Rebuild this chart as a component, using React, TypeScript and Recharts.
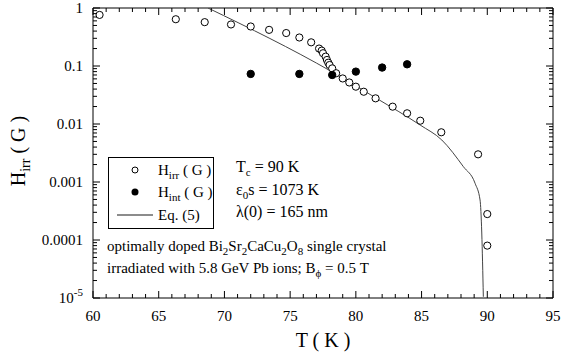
import React from 'react';
import { ComposedChart, Scatter, Line, XAxis, YAxis, ReferenceLine } from 'recharts';

const FONT = '"Liberation Serif", "Times New Roman", Times, serif';

// H_irr (open circles)
const hirrT = [60.5, 66.3, 68.5, 70.5, 72.0, 73.4, 74.7, 75.7, 76.6, 77.2, 77.4, 77.5, 77.7, 77.8, 77.9, 78.0, 78.2, 78.5, 79.0, 79.5, 80.0, 80.6, 81.5, 82.8, 83.9, 84.9, 86.5, 89.3, 90.0, 90.0];
const hirrH = [0.76, 0.64, 0.57, 0.52, 0.48, 0.42, 0.37, 0.31, 0.256, 0.2, 0.184, 0.166, 0.145, 0.127, 0.114, 0.104, 0.091, 0.075, 0.061, 0.052, 0.044, 0.036, 0.0277, 0.0199, 0.0153, 0.0114, 0.0072, 0.003, 0.00028, 0.00008];

// H_int (filled circles)
const hintT = [72.0, 75.7, 78.2, 80.0, 82.0, 83.9];
const hintH = [0.073, 0.073, 0.07, 0.08, 0.094, 0.107];

// Eq. (5) curve
const eqT = [68.75, 78.17, 81.54, 84.89, 86.54, 88.18, 89.07, 89.45, 89.58, 89.7];
const eqH = [1, 0.0797, 0.028, 0.0096, 0.0053, 0.00184, 0.00095, 0.00049, 0.000132, 0.0000105];

// ticks
const xMajor = [60, 65, 70, 75, 80, 85, 90, 95];
const xMinor = [61, 62, 63, 64, 66, 67, 68, 69, 71, 72, 73, 74, 76, 77, 78, 79, 81, 82, 83, 84, 86, 87, 88, 89, 91, 92, 93, 94];
const yMajor = [1e-5, 1e-4, 1e-3, 1e-2, 1e-1, 1];
const yLabels = ['10^-5', '0.0001', '0.001', '0.01', '0.1', '1'];
const minorMult = [2, 3, 4, 5, 6, 7, 8, 9];
const yMinor: number[] = [];
yMajor.slice(0, 5).forEach((d) => minorMult.forEach((m) => yMinor.push(d * m)));

const xTicks = [...xMajor, ...xMinor].sort((a, b) => a - b);
const yTicks = [...yMajor, ...yMinor].sort((a, b) => a - b);

const hirrData = hirrT.map((T, i) => ({ T, H: hirrH[i] }));
const hintData = hintT.map((T, i) => ({ T, H: hintH[i] }));
const eqData = eqT.map((T, i) => ({ T, H: eqH[i] }));

const XDOM: [number, number] = [60, 95];
const YDOM: [number, number] = [1e-5, 1];

// layout
const CHART_W = 561;
const CHART_H = 360;
const M_TOP = 8;
const M_RIGHT = 8;
const YAXIS_W = 93;
const XAXIS_H = 62;
const PLOT_W = CHART_W - YAXIS_W - M_RIGHT;
const PLOT_H = CHART_H - M_TOP - XAXIS_H;
const MAJ = 7;
const MIN = 4;

const XTick = (p: any) => {
  const { x, y, payload } = p;
  const v = payload.value;
  const major = xMajor.some((m) => Math.abs(m - v) < 1e-9);
  const len = major ? MAJ : MIN;
  const top = y - PLOT_H;
  return (
    <g>
      <line x1={x} x2={x} y1={y} y2={y - len} stroke="#000" strokeWidth={1} />
      <line x1={x} x2={x} y1={top} y2={top + len} stroke="#000" strokeWidth={1} />
      {major && (
        <text x={x} y={y + 12} dy="0.71em" textAnchor="middle" fontFamily={FONT} fontSize={15} fill="#000">
          {v}
        </text>
      )}
    </g>
  );
};

const YTick = (p: any) => {
  const { x, y, payload } = p;
  const v = payload.value;
  let idx = -1;
  yMajor.forEach((m, i) => {
    if (Math.abs(Math.log10(m) - Math.log10(v)) < 1e-6) idx = i;
  });
  const major = idx >= 0;
  const len = major ? MAJ : MIN;
  const right = x + PLOT_W;
  let label: React.ReactNode = null;
  if (major) {
    const lab = yLabels[idx];
    if (lab.includes('^')) {
      const [base, exp] = lab.split('^');
      label = (
        <text x={x - 10} y={y} dy={5} textAnchor="end" fontFamily={FONT} fontSize={15} fill="#000">
          {base}
          <tspan dy={-7} fontSize={11}>{exp}</tspan>
        </text>
      );
    } else {
      label = (
        <text x={x - 10} y={y} dy={5} textAnchor="end" fontFamily={FONT} fontSize={15} fill="#000">
          {lab}
        </text>
      );
    }
  }
  return (
    <g>
      <line x1={x} x2={x + len} y1={y} y2={y} stroke="#000" strokeWidth={1} />
      <line x1={right} x2={right - len} y1={y} y2={y} stroke="#000" strokeWidth={1} />
      {label}
    </g>
  );
};

const openDot = (p: any) => <circle cx={p.cx} cy={p.cy} r={3.6} fill="#fff" stroke="#000" strokeWidth={1} />;
const fillDot = (p: any) => <circle cx={p.cx} cy={p.cy} r={3.7} fill="#000" stroke="#000" strokeWidth={1} />;

export default function App() {
  return (
    <div style={{ position: 'absolute', left: 0, top: 0, width: CHART_W, height: CHART_H, background: '#fff' }}>
      <ComposedChart width={CHART_W} height={CHART_H} margin={{ top: M_TOP, right: M_RIGHT, left: 0, bottom: 0 }}>
        <XAxis
          xAxisId="x"
          dataKey="T"
          type="number"
          domain={XDOM}
          ticks={xTicks}
          interval={0}
          allowDataOverflow
          height={XAXIS_H}
          tickLine={false}
          tickSize={0}
          tickMargin={0}
          axisLine={{ stroke: '#000', strokeWidth: 1 }}
          tick={XTick}
          label={{
            content: (p: any) => {
              const vb = p.viewBox || { x: YAXIS_W, y: M_TOP + PLOT_H, width: PLOT_W };
              return (
                <text x={vb.x + vb.width / 2} y={vb.y + 49} textAnchor="middle" fontFamily={FONT} fontSize={20} fill="#000">
                  T ( K )
                </text>
              );
            },
          }}
        />
        <YAxis
          yAxisId="y"
          dataKey="H"
          type="number"
          scale="log"
          domain={YDOM}
          ticks={yTicks}
          interval={0}
          allowDataOverflow
          width={YAXIS_W}
          tickLine={false}
          tickSize={0}
          tickMargin={0}
          axisLine={{ stroke: '#000', strokeWidth: 1 }}
          tick={YTick}
          label={{
            content: (p: any) => {
              const vb = p.viewBox || { x: 0, y: M_TOP, width: YAXIS_W, height: PLOT_H };
              const cx = vb.x + 18;
              const cy = vb.y + vb.height / 2 - 2;
              return (
                <text x={cx} y={cy} dy={7} textAnchor="middle" transform={`rotate(-90, ${cx}, ${cy})`} fontFamily={FONT} fontSize={20} fill="#000">
                  H<tspan dy={5} fontSize={14}>irr</tspan>
                  <tspan dy={-5}> ( G )</tspan>
                </text>
              );
            },
          }}
        />
        {/* top and right frame lines */}
        <ReferenceLine xAxisId="x" yAxisId="y" y={YDOM[1]} stroke="#000" strokeWidth={1} ifOverflow="visible" />
        <ReferenceLine xAxisId="x" yAxisId="y" x={XDOM[1]} stroke="#000" strokeWidth={1} ifOverflow="visible" />

        <Line
          xAxisId="x"
          yAxisId="y"
          data={eqData}
          dataKey="H"
          type="monotone"
          stroke="#444"
          strokeWidth={1}
          dot={false}
          activeDot={false}
          isAnimationActive={false}
          name="Eq. (5)"
        />
        <Scatter xAxisId="x" yAxisId="y" data={hirrData} dataKey="H" shape={openDot} isAnimationActive={false} name="Hirr" />
        <Scatter xAxisId="x" yAxisId="y" data={hintData} dataKey="H" shape={fillDot} isAnimationActive={false} name="Hint" />
      </ComposedChart>

      <svg width={CHART_W} height={CHART_H} style={{ position: 'absolute', left: 0, top: 0, pointerEvents: 'none' }}>
        <g fontFamily={FONT} fontSize={15} fill="#000">
          {/* legend */}
          <rect x={108.5} y={157.5} width={105} height={71} fill="none" stroke="#000" strokeWidth={1} />
          <circle cx={135} cy={170} r={3} fill="#fff" stroke="#000" strokeWidth={1} />
          <text x={158} y={175}>
            H<tspan dy={4} fontSize={11}>irr</tspan>
            <tspan dy={-4}> ( G )</tspan>
          </text>
          <circle cx={135} cy={192} r={3.5} fill="#000" />
          <text x={158} y={197}>
            H<tspan dy={4} fontSize={11}>int</tspan>
            <tspan dy={-4}> ( G )</tspan>
          </text>
          <line x1={117} x2={153} y1={215} y2={215} stroke="#666" strokeWidth={1.5} />
          <text x={158} y={220}>Eq. (5)</text>

          {/* parameters */}
          <text x={236} y={172} fontSize={16}>
            T<tspan dy={4} fontSize={11}>c</tspan>
            <tspan dy={-4}> = 90 K</tspan>
          </text>
          <text x={236} y={195} fontSize={16}>
            ε<tspan dy={4} fontSize={11}>0</tspan>
            <tspan dy={-4}>s = 1073 K</tspan>
          </text>
          <text x={236} y={217} fontSize={16}>λ(0) = 165 nm</text>

          {/* sample description */}
          <text x={107} y={251}>
            optimally doped Bi<tspan dy={4} fontSize={11}>2</tspan>
            <tspan dy={-4}>Sr</tspan>
            <tspan dy={4} fontSize={11}>2</tspan>
            <tspan dy={-4}>CaCu</tspan>
            <tspan dy={4} fontSize={11}>2</tspan>
            <tspan dy={-4}>O</tspan>
            <tspan dy={4} fontSize={11}>8</tspan>
            <tspan dy={-4}> single crystal</tspan>
          </text>
          <text x={107} y={273}>
            irradiated with 5.8 GeV Pb ions; B<tspan dy={4} fontSize={11}>ϕ</tspan>
            <tspan dy={-4}> = 0.5 T</tspan>
          </text>
        </g>
      </svg>
    </div>
  );
}
